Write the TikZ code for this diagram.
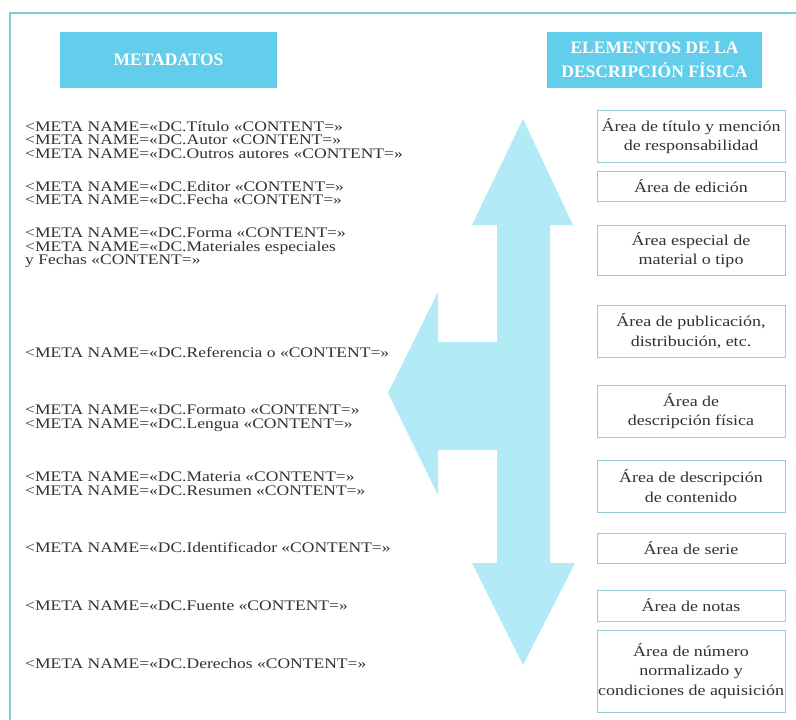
\documentclass[tikz,border=0pt]{standalone}
\usepackage{fontspec}
\setmainfont{Liberation Serif}[FakeStretch=1.2]
\newfontfamily\headfont{Liberation Serif}
\definecolor{headcyan}{RGB}{98,206,236}
\definecolor{arrowcyan}{RGB}{178,234,245}
\definecolor{boxline}{RGB}{150,205,212}
\definecolor{frameline}{RGB}{125,205,215}
\definecolor{textgray}{RGB}{50,50,50}
\begin{document}
\begin{tikzpicture}[x=1pt,y=-1pt,
  meta/.style={anchor=west, inner sep=0pt, align=left, text=textgray,
    font=\fontsize{14.6}{13.7}\selectfont},
  area/.style={draw=boxline, line width=0.8pt, minimum width=188pt, inner sep=0pt,
    align=center, text=textgray, font=\fontsize{15}{19.5}\selectfont},
  header/.style={fill=headcyan, inner sep=0pt, align=center, text=white,
    font=\headfont\bfseries\fontsize{17.5}{24}\selectfont},
  frame/.style={draw=frameline, line width=1.4pt},
  bigarrow/.style={fill=arrowcyan}]
\useasboundingbox (0,0) rectangle (796,720);
\fill[white] (0,0) rectangle (796,720);
\draw[frame] (10,720) -- (10,13) -- (796,13);

% headers
\node[header, minimum width=217pt, minimum height=56pt] (hmeta) at (168.5,60) {METADATOS};
\node[header, minimum width=215pt, minimum height=56pt] (helem) at (654.5,60) {ELEMENTOS DE LA\\DESCRIPCIÓN FÍSICA};

% arrow
\fill[bigarrow] (523,119) -- (573,225) -- (550,225) -- (550,563) -- (575,563)
  -- (523,665) -- (472,563) -- (497,563) -- (497,450) -- (438,450) -- (438,495)
  -- (388,393) -- (438,292) -- (438,342) -- (497,342) -- (497,225) -- (472,225) -- cycle;

% metadata lines
\node[meta] (m1) at (25,140) {<META NAME=«DC.Título «CONTENT=»\\<META NAME=«DC.Autor «CONTENT=»\\<META NAME=«DC.Outros autores «CONTENT=»};
\node[meta] (m2) at (25,193) {<META NAME=«DC.Editor «CONTENT=»\\<META NAME=«DC.Fecha «CONTENT=»};
\node[meta] (m3) at (25,248) {<META NAME=«DC.Forma «CONTENT=»\\<META NAME=«DC.Materiales especiales\\y Fechas «CONTENT=»};
\node[meta] (m4) at (25,352) {<META NAME=«DC.Referencia o «CONTENT=»};
\node[meta] (m5) at (25,418) {<META NAME=«DC.Formato «CONTENT=»\\<META NAME=«DC.Lengua «CONTENT=»};
\node[meta] (m6) at (25,484) {<META NAME=«DC.Materia «CONTENT=»\\<META NAME=«DC.Resumen «CONTENT=»};
\node[meta] (m7) at (25,547) {<META NAME=«DC.Identificador «CONTENT=»};
\node[meta] (m8) at (25,606) {<META NAME=«DC.Fuente «CONTENT=»};
\node[meta] (m9) at (25,664) {<META NAME=«DC.Derechos «CONTENT=»};

% area boxes
\node[area, minimum height=52pt] (a1) at (691,136) {Área de título y mención\\de responsabilidad};
\node[area, minimum height=30pt] (a2) at (691,186) {Área de edición};
\node[area, minimum height=50pt] (a3) at (691,250) {Área especial de\\material o tipo};
\node[area, minimum height=52pt] (a4) at (691,331) {Área de publicación,\\distribución, etc.};
\node[area, minimum height=52pt] (a5) at (691,411) {Área de\\descripción física};
\node[area, minimum height=52pt] (a6) at (691,486) {Área de descripción\\de contenido};
\node[area, minimum height=30pt] (a7) at (691,548) {Área de serie};
\node[area, minimum height=31pt] (a8) at (691,605.5) {Área de notas};
\node[area, minimum height=82pt] (a9) at (691,671) {Área de número\\normalizado y\\condiciones de aquisición};
\end{tikzpicture}
\end{document}
